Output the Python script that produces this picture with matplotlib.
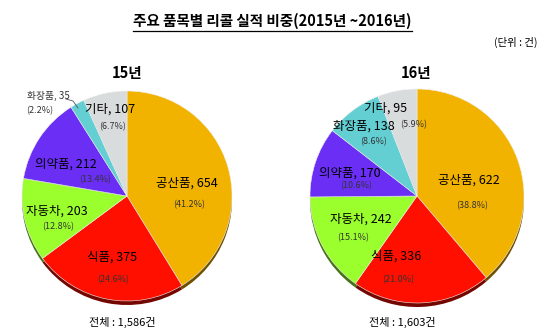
import matplotlib
matplotlib.use("Agg")
import matplotlib.pyplot as plt
from matplotlib.colors import to_rgb

plt.rcParams['font.family'] = ['Noto Sans CJK KR', 'DejaVu Sans']

categories = ["공산품", "식품", "자동차", "의약품", "화장품", "기타"]
values_15 = [654, 375, 203, 212, 35, 107]
values_16 = [622, 336, 242, 170, 138, 95]
pct_15 = [41.2, 24.6, 12.8, 13.4, 2.2, 6.7]
pct_16 = [38.8, 21.0, 15.1, 10.6, 8.6, 5.9]
pie_titles = ["15년", "16년"]
totals = ["전체 : 1,586건", "전체 : 1,603건"]
colors = ["#F2B300", "#FF0F00", "#9BFF2E", "#6A2EF5", "#63CFD3", "#D8DCDD"]

W, H = 554, 334
fig = plt.figure(figsize=(W / 100, H / 100), dpi=100)
ax = fig.add_axes([0, 0, 1, 1])

def Y(y):
    return H - y

def dark(c, f=0.45):
    r, g, b = to_rgb(c)
    return (r * f, g * f, b * f)

# layout: pie centers/radius and label positions (pixel coords)
layouts = [
    dict(cx=127, cy=196, r=105,
         lab=[(187, 183), (112, 257), (57, 211), (66, 164), (48, 96), (110, 109)],
         pct=[(189, 205), (113, 280), (58, 227), (95, 180), (40, 111), (113, 127)],
         title=(127, 73), total=(122, 322)),
    dict(cx=417, cy=196, r=107,
         lab=[(469, 180), (396, 256), (361, 219), (350, 173), (364, 126), (386, 108)],
         pct=[(472, 206), (398, 280), (353, 238), (356, 186), (374, 142), (414, 125)],
         title=(416, 73), total=(402, 322)),
]

for vals, pcts, lay, ttl, tot in zip([values_15, values_16], [pct_15, pct_16], layouts,
                                     pie_titles, totals):
    total = sum(vals)
    # shadow (3D bottom edge)
    ax.pie(vals, colors=[dark(c) for c in colors], startangle=90, counterclock=False,
           center=(lay['cx'], Y(lay['cy']) - 4), radius=lay['r'],
           wedgeprops=dict(linewidth=0))
    ax.pie(vals, colors=colors, startangle=90, counterclock=False,
           center=(lay['cx'], Y(lay['cy'])), radius=lay['r'],
           wedgeprops=dict(linewidth=0.4, edgecolor="#f0f0f0"))
    for i, (cat, v, p) in enumerate(zip(categories, vals, pcts)):
        small = (v / total) < 0.03
        fs = 7 if small else 9
        col = "#333333" if small else "black"
        ax.text(lay['lab'][i][0], Y(lay['lab'][i][1]), f"{cat}, {v}", ha='center', va='center',
                fontsize=fs, color=col)
        ax.text(lay['pct'][i][0], Y(lay['pct'][i][1]), f"({p:.1f}%)", ha='center',
                va='center', fontsize=6.5, color="#333333")
    ax.text(lay['title'][0], Y(lay['title'][1]), ttl, ha='center', va='center', fontsize=10.5,
            fontweight='bold')
    ax.text(lay['total'][0], Y(lay['total'][1]), tot, ha='center', va='center', fontsize=8)

# leader line for small slice (left pie 화장품)
ax.plot([66, 73, 78], [Y(99), Y(101), Y(108)], color="#555555", lw=0.6)

ax.text(272, Y(21), "주요 품목별 리콜 실적 비중(2015년 ~2016년)", ha='center', va='center',
        fontsize=10.5, fontweight='bold')
ax.plot([133, 412], [Y(31), Y(31)], color='black', lw=0.9)
ax.text(537, Y(42), "(단위 : 건)", ha='right', va='center', fontsize=7.5)

ax.set_xlim(0, W)
ax.set_ylim(0, H)
ax.set_aspect('auto')
ax.axis('off')
fig.savefig("out.png", dpi=100, facecolor='white')
